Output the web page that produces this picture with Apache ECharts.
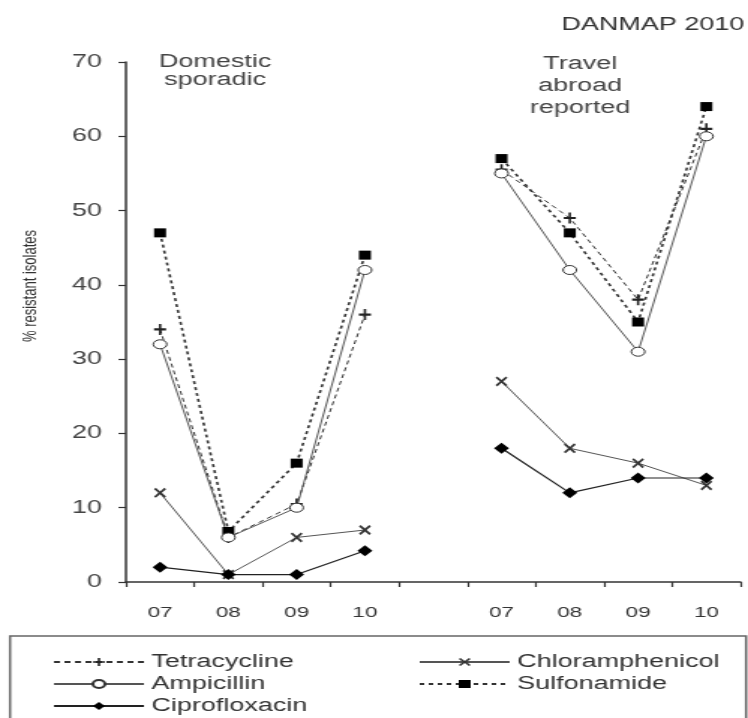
<!DOCTYPE html>
<html><head><meta charset="utf-8">
<script src="https://cdn.jsdelivr.net/npm/echarts@6/dist/echarts.min.js"></script>
<style>
html,body{margin:0;padding:0;width:748px;height:718px;overflow:hidden;background:#fff}
#c{width:499px;height:718px;transform:scaleX(1.499);transform-origin:0 0;}
</style></head><body><div id="c"></div>
<script>
const categories = ['07','08','09','10','','07','08','09','10'];
const yTicks = [0,10,20,30,40,50,60,70];
const tetracycline    = [34, 6, 10.5, 36, null, 55.5, 49, 38, 61];
const chloramphenicol = [12, 1, 6, 7, null, 27, 18, 16, 13];
const ampicillin      = [32, 6, 10, 42, null, 55, 42, 31, 60];
const sulfonamide     = [47, 6.8, 16, 44, null, 57, 47, 35, 64];
const ciprofloxacin   = [2, 1, 1, 4.2, null, 18, 12, 14, 14];

const FONT = "'Liberation Sans', Arial, sans-serif";
const PLUS = 'path://M4,0h2v4h4v2h-4v4h-2v-4h-4v-2h4z';
const CROSS = 'path://M1.4,0L5,3.6L8.6,0L10,1.4L6.4,5L10,8.6L8.6,10L5,6.4L1.4,10L0,8.6L3.6,5L0,1.4z';

const chart = echarts.init(document.getElementById('c'), null, {renderer:'canvas'});
chart.setOption({
  animation: false,
  backgroundColor: '#fff',
  grid: {left: 84, right: 5, top: 62, bottom: 136, containLabel: false},
  xAxis: {
    type: 'category', data: categories, boundaryGap: true,
    axisLine: {lineStyle: {color: '#333', width: 1.5}},
    axisTick: {show: true, alignWithLabel: false, length: 5, lineStyle: {color: '#333', width: 1.2}},
    axisLabel: {margin: 23, fontSize: 15, color: '#333', fontFamily: FONT, interval: 0},
    splitLine: {show: false}
  },
  yAxis: {
    type: 'value', min: yTicks[0], max: yTicks[yTicks.length-1], interval: 10,
    axisLine: {show: true, lineStyle: {color: '#333', width: 1.5}},
    axisTick: {show: true, length: 5, lineStyle: {color: '#333', width: 1.2}},
    axisLabel: {margin: 16, fontSize: 18, color: '#444', fontFamily: FONT},
    splitLine: {show: false}
  },
  legend: [
    {data: ['Tetracycline','Ampicillin','Ciprofloxacin'], orient: 'vertical', left: 35, top: 653,
     itemWidth: 60, itemHeight: 10, itemGap: 4, padding: 0, selectedMode: false,
     textStyle: {fontSize: 18, lineHeight: 18, color: '#333', fontFamily: FONT}},
    {data: ['Chloramphenicol','Sulfonamide'], orient: 'vertical', left: 279, top: 653,
     itemWidth: 60, itemHeight: 10, itemGap: 4, padding: 0, selectedMode: false,
     textStyle: {fontSize: 18, lineHeight: 18, color: '#333', fontFamily: FONT}}
  ],
  graphic: [
    {type: 'rect', shape: {x: 6.7, y: 636, width: 491, height: 100},
     style: {fill: 'none', stroke: '#666', lineWidth: 1.5}, silent: true},
    {type: 'text', x: 20, y: 286, rotation: Math.PI/2,
     style: {text: '% resistant isolates', fontSize: 13, fontFamily: FONT, fill: '#333', align: 'center', verticalAlign: 'middle'}},
    {type: 'text', x: 496.5, y: 16,
     style: {text: 'DANMAP 2010', fontSize: 18, fontFamily: FONT, fill: '#333', align: 'right', verticalAlign: 'top'}},
    {type: 'text', x: 143.4, y: 53,
     style: {text: 'Domestic\nsporadic', fontSize: 18, lineHeight: 18, fontFamily: FONT, fill: '#444', align: 'center', verticalAlign: 'top'}},
    {type: 'text', x: 387, y: 53,
     style: {text: 'Travel\nabroad\nreported', fontSize: 18, lineHeight: 22, fontFamily: FONT, fill: '#444', align: 'center', verticalAlign: 'top'}}
  ],
  series: [
    {name: 'Tetracycline', type: 'line', data: tetracycline, connectNulls: false,
     symbol: PLUS, symbolSize: [8, 11],
     itemStyle: {color: '#222'}, lineStyle: {color: '#333', width: 1, type: [4, 3]}},
    {name: 'Sulfonamide', type: 'line', data: sulfonamide, connectNulls: false,
     symbol: 'rect', symbolSize: [8, 9],
     itemStyle: {color: '#000'}, lineStyle: {color: '#333', width: 1.6, type: [3, 3]}},
    {name: 'Chloramphenicol', type: 'line', data: chloramphenicol, connectNulls: false,
     symbol: CROSS, symbolSize: [8, 10],
     itemStyle: {color: '#333'}, lineStyle: {color: '#555', width: 1}},
    {name: 'Ampicillin', type: 'line', data: ampicillin, connectNulls: false,
     symbol: 'circle', symbolSize: 9,
     itemStyle: {color: '#fff', borderColor: '#333', borderWidth: 1},
     lineStyle: {color: '#555', width: 1}},
    {name: 'Ciprofloxacin', type: 'line', data: ciprofloxacin, connectNulls: false,
     symbol: 'diamond', symbolSize: [10, 11],
     itemStyle: {color: '#000'}, lineStyle: {color: '#222', width: 1.2}}
  ]
});
</script></body></html>
